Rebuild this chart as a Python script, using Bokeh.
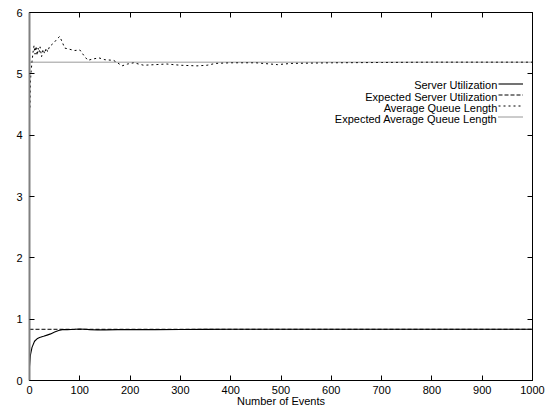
from bokeh.plotting import figure
from bokeh.models import Range1d, LinearAxis, Legend, LegendItem, Label, FixedTicker
from bokeh.embed import file_html
from bokeh.resources import INLINE

# ---- data ----
util_x = [0, 2, 5, 10, 15, 20, 28, 35, 42, 50, 58, 65, 75, 90, 100, 110, 120, 135, 150, 175, 200, 250,
          300, 350, 400, 500, 600, 700, 800, 900, 1000]
util_y = [0.23, 0.42, 0.54, 0.64, 0.68, 0.70, 0.72, 0.74, 0.76, 0.79, 0.815, 0.83, 0.83, 0.835, 0.84,
          0.835, 0.83, 0.825, 0.825, 0.83, 0.83, 0.83, 0.832, 0.833, 0.835, 0.835, 0.835, 0.836, 0.836,
          0.836, 0.836]

queue_x = [1, 2, 3, 5, 7, 9, 11, 13, 15, 17, 19, 21, 24, 27, 30, 33, 36, 40, 45, 50, 55, 60, 65, 70,
           80, 90, 100, 108, 116, 125, 138, 150, 167, 175, 184, 195, 207, 227, 250, 273, 300, 333, 353,
           370, 400, 450, 493, 520, 600, 700, 800, 900, 1000]
queue_y = [4.45, 4.9, 5.02, 5.2, 5.35, 5.46, 5.32, 5.45, 5.3, 5.42, 5.35, 5.44, 5.28, 5.4, 5.33, 5.42,
           5.36, 5.45, 5.48, 5.52, 5.57, 5.61, 5.52, 5.42, 5.40, 5.38, 5.39, 5.30, 5.22, 5.24, 5.26,
           5.23, 5.22, 5.18, 5.13, 5.16, 5.18, 5.14, 5.15, 5.16, 5.14, 5.13, 5.14, 5.17, 5.18, 5.18,
           5.15, 5.17, 5.18, 5.185, 5.19, 5.19, 5.19]

expected_util = 0.835
expected_queue = 5.19
x_span = [0, 1000]

series_names = ["Server Utilization", "Expected Server Utilization",
                "Average Queue Length", "Expected Average Queue Length"]
x_ticks = [0, 100, 200, 300, 400, 500, 600, 700, 800, 900, 1000]
y_ticks = [0, 1, 2, 3, 4, 5, 6]

FONT = "Liberation Sans"

p = figure(width=560, height=409, output_backend="svg", toolbar_location=None,
           x_range=Range1d(0, 1000), y_range=Range1d(0, 6),
           min_border_left=29, min_border_right=28, min_border_top=12, min_border_bottom=29)
p.xgrid.visible = False
p.ygrid.visible = False
p.outline_line_color = "black"
p.outline_line_width = 1

r1 = p.line(util_x, util_y, line_color="black", line_width=1.1)
r2 = p.line(x_span, [expected_util] * 2, line_color="black", line_width=1, line_dash="4 2")
r3 = p.line(queue_x, queue_y, line_color="black", line_width=1, line_dash="2 3")
r4 = p.line(x_span, [expected_queue] * 2, line_color="#333333", line_width=1, line_dash="1 1")

xa = p.xaxis[0]
xa.ticker = FixedTicker(ticks=x_ticks)
xa.major_tick_in = 5
xa.major_tick_out = 0
xa.minor_tick_line_color = None
xa.major_label_text_font = FONT
xa.major_label_text_font_size = "11px"
xa.major_label_text_color = "black"
xa.major_label_standoff = 5
xa.axis_label = "Number of Events"
xa.axis_label_text_font = FONT
xa.axis_label_text_font_size = "11px"
xa.axis_label_text_font_style = "normal"
xa.axis_label_text_color = "black"
xa.axis_label_standoff = -2
xa.axis_line_color = "black"

ya = p.yaxis[0]
ya.ticker = FixedTicker(ticks=y_ticks)
ya.major_tick_in = 5
ya.major_tick_out = 0
ya.minor_tick_line_color = None
ya.major_label_text_font = FONT
ya.major_label_text_font_size = "11px"
ya.major_label_text_color = "black"
ya.major_label_standoff = 7
ya.axis_line_color = "#808080"
ya.axis_line_width = 2

top = LinearAxis(ticker=FixedTicker(ticks=x_ticks), major_tick_in=5, major_tick_out=0,
                 minor_tick_line_color=None, axis_line_color="black",
                 major_label_overrides={t: "" for t in x_ticks})
right = LinearAxis(ticker=FixedTicker(ticks=y_ticks), major_tick_in=5, major_tick_out=0,
                   minor_tick_line_color=None, axis_line_color="black",
                   major_label_overrides={t: "" for t in y_ticks})
p.add_layout(top, "above")
p.add_layout(right, "right")

# legend gnuplot style: text right-aligned, sample line to its right
leg_rows_y = [4.81, 4.62, 4.44, 4.27]
for name, yy in zip(series_names, leg_rows_y):
    p.add_layout(Label(x=930, y=yy, text=name, text_align="right", text_baseline="middle",
                       text_font=FONT, text_font_size="11px", text_color="black"))

legend = Legend(items=[LegendItem(label="", renderers=[r]) for r in (r1, r2, r3, r4)],
                location=(469, 258), glyph_width=25, glyph_height=11, label_height=11,
                label_width=0, spacing=0, padding=0, margin=0, label_standoff=0,
                label_text_font_size="6px", background_fill_alpha=0, border_line_alpha=0)
p.add_layout(legend, "center")

open("out.html", "w").write(file_html(p, INLINE))
